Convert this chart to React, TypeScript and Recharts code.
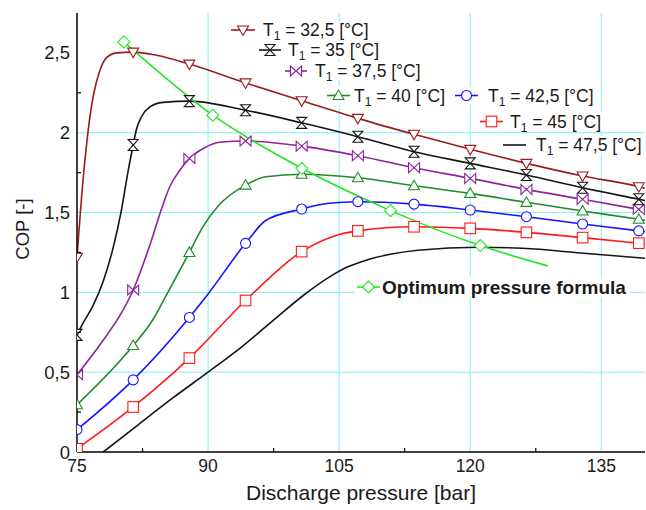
import React from 'react';
import { ComposedChart, Line, XAxis, YAxis, CartesianGrid } from 'recharts';

const FONT = '"Liberation Sans", Arial, Helvetica, sans-serif';

// ---------- data ----------
// discharge pressures [bar] where the markers sit
const markerX = [75, 81.43, 87.86, 94.29, 100.71, 107.14, 113.57, 120, 126.43, 132.86, 139.29];

// COP at the marker pressures
const cop325 = [1.22, 2.505, 2.43, 2.312, 2.2, 2.09, 1.99, 1.896, 1.808, 1.729, 1.662];
const cop35 = [0.734, 1.923, 2.198, 2.141, 2.062, 1.975, 1.881, 1.808, 1.735, 1.655, 1.583];
const cop375 = [0.484, 1.015, 1.839, 1.948, 1.916, 1.856, 1.781, 1.714, 1.645, 1.583, 1.52];
const cop40 = [0.296, 0.667, 1.25, 1.672, 1.74, 1.718, 1.668, 1.62, 1.564, 1.51, 1.458];
const cop425 = [0.14, 0.452, 0.843, 1.307, 1.522, 1.568, 1.553, 1.516, 1.474, 1.428, 1.385];
const cop45 = [0.02, 0.282, 0.588, 0.949, 1.255, 1.385, 1.411, 1.401, 1.376, 1.343, 1.308];

// extra points read along the drawn curves between markers [pressure, COP]
const path325 = [[75.72, 1.72], [76.29, 2.02], [76.86, 2.23], [77.62, 2.39], [78.39, 2.47], [79.53, 2.5], [84.1, 2.485], [140, 1.652]];
const path35 = [[75.72, 0.81], [76.86, 0.92], [78.0, 1.07], [79.14, 1.28], [80.1, 1.52], [80.85, 1.76], [81.8, 2.02], [82.38, 2.1], [83.3, 2.16], [84.84, 2.19], [140, 1.575]];
const path375 = [[78.0, 0.7], [80.28, 0.89], [83.3, 1.29], [84.66, 1.52], [85.6, 1.66], [86.7, 1.76], [89.4, 1.9], [91.3, 1.94], [140, 1.513]];
const path40 = [[83.7, 0.83], [85.2, 0.98], [89.4, 1.41], [91.3, 1.55], [96.6, 1.724], [140, 1.452]];
const path425 = [[90, 0.99], [96.6, 1.45], [103.8, 1.558], [140, 1.38]];
const path45 = [[104.2, 1.349], [140, 1.304]];

// T1 = 47,5 °C curve (no markers)
const p475 = [78, 82, 86, 90, 94, 98, 101, 104, 106, 108, 111, 114, 121, 126, 133, 140];
const cop475 = [0, 0.17, 0.34, 0.5, 0.665, 0.85, 0.985, 1.1, 1.16, 1.2, 1.24, 1.264, 1.283, 1.276, 1.245, 1.214];

// optimum pressure formula
const optP = [80.36, 90.54, 100.73, 110.88, 121.15, 128.86];
const optCop = [2.569, 2.11, 1.777, 1.512, 1.293, 1.166];
const optMarkerCount = 5;

// axes
const xTicks = [75, 90, 105, 120, 135];
const xMinor = [82.5, 97.5, 112.5, 127.5];
const yTicks = [0, 0.5, 1, 1.5, 2, 2.5];
const yMinor = [0.25, 0.75, 1.25, 1.75, 2.25];
const gridX = [90, 105, 120, 135];
const gridY = [0.5, 1, 1.5, 2];

const tempLabels = ['32,5', '35', '37,5', '40', '42,5', '45', '47,5'];
const optLabel = 'Optimum pressure formula';

// ---------- styles ----------
const C325 = '#9b1c1c';
const C35 = '#151515';
const C375 = '#8e239c';
const C40 = '#1f8c2a';
const C425 = '#1414ff';
const C45 = '#ff1a1a';
const C475 = '#151515';
const COPT = '#22e622';
const GRID = '#86eef5';
const TXT = '#1a1a1a';

type Pt = { x: number; y: number; m: boolean };

function build(values: number[], extra: number[][]): Pt[] {
  const pts: Pt[] = markerX.map((x, i) => ({ x, y: values[i], m: true }));
  extra.forEach(([x, y]) => pts.push({ x, y, m: false }));
  return pts.sort((a, b) => a.x - b.x);
}

const s325 = build(cop325, path325);
const s35 = build(cop35, path35);
const s375 = build(cop375, path375);
const s40 = build(cop40, path40);
const s425 = build(cop425, path425);
const s45 = build(cop45, path45);
const s475: Pt[] = p475.map((x, i) => ({ x, y: cop475[i], m: false }));
const sOpt: Pt[] = optP.map((x, i) => ({ x, y: optCop[i], m: i < optMarkerCount }));

function Marker({ shape, cx, cy, color }: { shape: string; cx: number; cy: number; color: string }) {
  const c = { fill: '#fff', stroke: color, strokeWidth: 1.1 };
  switch (shape) {
    case 'triDown':
      return <path d={`M${cx - 5.5},${cy - 4} L${cx + 5.5},${cy - 4} L${cx},${cy + 5.5} Z`} {...c} />;
    case 'triUp':
      return <path d={`M${cx - 5.5},${cy + 4} L${cx + 5.5},${cy + 4} L${cx},${cy - 5.5} Z`} {...c} />;
    case 'hourglass':
      return <path d={`M${cx - 5},${cy - 5.5} L${cx + 5},${cy - 5.5} L${cx - 5},${cy + 5.5} L${cx + 5},${cy + 5.5} Z`} {...c} />;
    case 'bowtie':
      return <path d={`M${cx - 5.5},${cy - 5} L${cx + 5.5},${cy + 5} L${cx + 5.5},${cy - 5} L${cx - 5.5},${cy + 5} Z`} {...c} />;
    case 'circle':
      return <circle cx={cx} cy={cy} r={5} {...c} />;
    case 'square':
      return <rect x={cx - 5.3} y={cy - 5.3} width={10.6} height={10.6} {...c} />;
    case 'diamond':
      return <path d={`M${cx},${cy - 6} L${cx + 6},${cy} L${cx},${cy + 6} L${cx - 6},${cy} Z`} {...c} />;
    default:
      return <g />;
  }
}

const dotFor = (shape: string, color: string) => (p: any) => {
  const { cx, cy, payload, index } = p;
  if (!payload || !payload.m || cx == null || cy == null) return <g key={`n${index}`} />;
  return <Marker key={`m${index}`} shape={shape} cx={cx} cy={cy} color={color} />;
};

const fmt = (v: number) => String(v).replace('.', ',');

const BottomTick = (p: any) => {
  const { x, y, payload } = p;
  const v = payload.value;
  if (xTicks.includes(v))
    return (
      <text x={x} y={y + 8} dy="0.71em" textAnchor="middle" fontSize={17.5} fill={TXT} fontFamily={FONT}>
        {fmt(v)}
      </text>
    );
  return <line x1={x} y1={y} x2={x} y2={y - 4} stroke="#000" strokeWidth={1.2} />;
};
const TopTick = (p: any) => <line x1={p.x} y1={p.y} x2={p.x} y2={p.y + 4} stroke="#000" strokeWidth={1.2} />;
const LeftTick = (p: any) => {
  const { x, y, payload } = p;
  const v = payload.value;
  if (yTicks.includes(v))
    return (
      <text x={x - 7} y={y} dy="0.355em" textAnchor="end" fontSize={18.5} fill={TXT} fontFamily={FONT}>
        {fmt(v)}
      </text>
    );
  return <line x1={x} y1={y} x2={x + 4} y2={y} stroke="#000" strokeWidth={1.2} />;
};
const RightTick = (p: any) => <line x1={p.x} y1={p.y} x2={p.x - 4} y2={p.y} stroke="#000" strokeWidth={1.2} />;

// legend layout
const legendLayout = [
  { sx0: 231, sx1: 255, y: 30, tx: 263, right: 376, shape: 'triDown', color: C325 },
  { sx0: 259, sx1: 281, y: 50, tx: 288, right: 384, shape: 'hourglass', color: C35 },
  { sx0: 285, sx1: 307, y: 71, tx: 315, right: 425, shape: 'bowtie', color: C375 },
  { sx0: 327, sx1: 350, y: 95.5, tx: 354, right: 447, shape: 'triUp', color: C40 },
  { sx0: 455, sx1: 478, y: 95.5, tx: 488, right: 596, shape: 'circle', color: C425 },
  { sx0: 480, sx1: 503, y: 121.5, tx: 510, right: 604, shape: 'square', color: C45 },
  { sx0: 503, sx1: 526, y: 145, tx: 536, right: 644, shape: 'none', color: C475 },
];

function LegendLayer() {
  return (
    <svg width={646} height={510} style={{ position: 'absolute', left: 0, top: 0, pointerEvents: 'none' }} fontFamily={FONT}>
      {legendLayout.map((r, i) => (
        <g key={i}>
          <rect x={r.sx0 - 2} y={r.y - 9} width={r.right - r.sx0 + 4} height={18} fill="#fff" />
          <line x1={r.sx0} y1={r.y} x2={r.sx1} y2={r.y} stroke={r.color} strokeWidth={1.6} />
          {r.shape !== 'none' && <Marker shape={r.shape} cx={(r.sx0 + r.sx1) / 2} cy={r.y} color={r.color} />}
          <text x={r.tx} y={r.y + 6} fontSize={17.5} fill={TXT} style={{ whiteSpace: 'pre' }}>
            <tspan>T</tspan>
            <tspan fontSize={12} dy={4}>1</tspan>
            <tspan dy={-4}>{` = ${tempLabels[i]} [°C]`}</tspan>
          </text>
        </g>
      ))}
      <g>
        <rect x={355} y={277} width={275} height={20} fill="#fff" />
        <line x1={357} y1={287} x2={380} y2={287} stroke={COPT} strokeWidth={1.6} />
        <Marker shape="diamond" cx={368.5} cy={287} color={COPT} />
        <text x={382} y={293.5} fontSize={19} fontWeight="bold" fill={TXT}>
          {optLabel}
        </text>
      </g>
      <text transform="translate(29,229) rotate(-90)" textAnchor="middle" fontSize={18.5} fill={TXT}>
        COP [-]
      </text>
    </svg>
  );
}

export default function App() {
  const lineProps = { type: 'monotone' as const, dataKey: 'y', strokeWidth: 1.6, isAnimationActive: false };
  return (
    <div style={{ position: 'absolute', left: 0, top: 0, width: 646, height: 510, background: '#fff', fontFamily: FONT }}>
      <ComposedChart width={646} height={510} margin={{ top: 13, right: 1, bottom: 0, left: 0 }}>
        <CartesianGrid stroke={GRID} strokeWidth={1} horizontalValues={gridY} verticalValues={gridX} />
        <XAxis
          dataKey="x"
          type="number"
          domain={[75, 140]}
          ticks={[...xTicks, ...xMinor].sort((a, b) => a - b)}
          interval={0}
          height={58}
          tickSize={0}
          tickMargin={0}
          tickLine={false}
          axisLine={{ stroke: '#000', strokeWidth: 1.5 }}
          tick={BottomTick}
          allowDataOverflow
          label={{ value: 'Discharge pressure [bar]', position: 'insideBottom', offset: 10, fontSize: 21, fill: TXT, fontFamily: FONT }}
        />
        <XAxis
          xAxisId="top"
          orientation="top"
          type="number"
          domain={[75, 140]}
          ticks={xMinor}
          interval={0}
          height={0}
          tickSize={0}
          tickMargin={0}
          tickLine={false}
          axisLine={{ stroke: '#000', strokeWidth: 1.5 }}
          tick={TopTick}
          allowDataOverflow
        />
        <YAxis
          type="number"
          domain={[0, 2.75]}
          ticks={[...yTicks, ...yMinor].sort((a, b) => a - b)}
          interval={0}
          width={77}
          tickSize={0}
          tickMargin={0}
          tickLine={false}
          axisLine={{ stroke: '#000', strokeWidth: 1.5 }}
          tick={LeftTick}
          allowDataOverflow
        />
        <YAxis
          yAxisId="right"
          orientation="right"
          type="number"
          domain={[0, 2.75]}
          ticks={yMinor}
          interval={0}
          width={0}
          tickSize={0}
          tickMargin={0}
          tickLine={false}
          axisLine={{ stroke: '#000', strokeWidth: 1.5 }}
          tick={RightTick}
          allowDataOverflow
        />
        <Line {...lineProps} data={s475} stroke={C475} dot={false} />
        <Line {...lineProps} data={s45} stroke={C45} dot={dotFor('square', C45)} />
        <Line {...lineProps} data={s425} stroke={C425} dot={dotFor('circle', C425)} />
        <Line {...lineProps} data={s40} stroke={C40} dot={dotFor('triUp', C40)} />
        <Line {...lineProps} data={s375} stroke={C375} dot={dotFor('bowtie', C375)} />
        <Line {...lineProps} data={s35} stroke={C35} dot={dotFor('hourglass', C35)} />
        <Line {...lineProps} data={s325} stroke={C325} dot={dotFor('triDown', C325)} />
        <Line {...lineProps} data={sOpt} stroke={COPT} dot={dotFor('diamond', COPT)} />
      </ComposedChart>
      <LegendLayer />
    </div>
  );
}
